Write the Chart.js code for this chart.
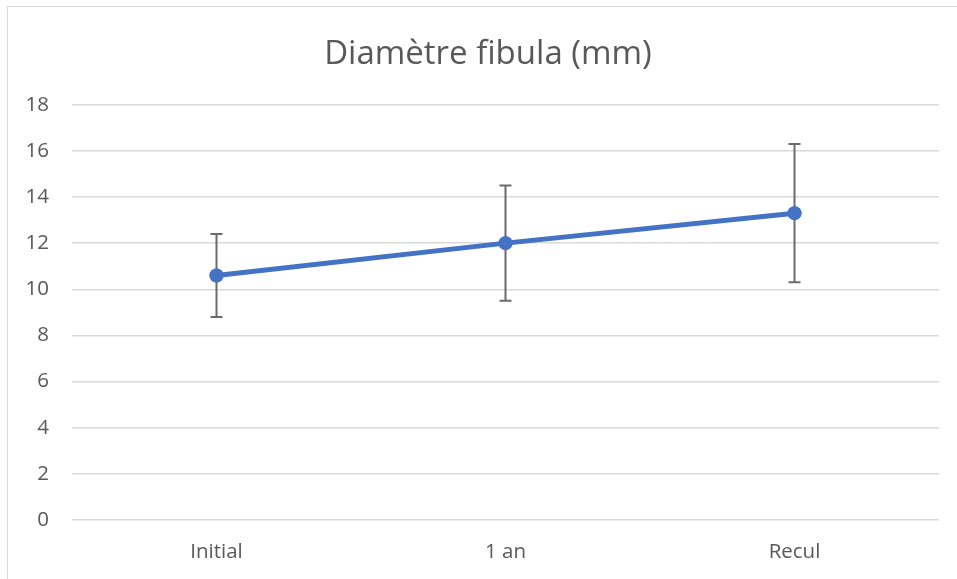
<!DOCTYPE html>
<html>
<head>
<meta charset="utf-8">
<script src="https://cdn.jsdelivr.net/npm/chart.js@4.4.0/dist/chart.umd.min.js"></script>
<style>
	html, body { margin: 0; padding: 0; background: #fff; overflow: hidden; }
	#frame { position: absolute; left: 7px; top: 6px; width: 980px; height: 600px;
		border-left: 1px solid #d9d9d9; border-top: 1px solid #d9d9d9; }
	#chart { position: absolute; left: 0; top: 0; }
	#title { position: absolute; left: 0; top: 29px; width: 976px; text-align: center;
		font-family: 'Open Sans'; font-size: 33px; line-height: 45px; color: #595959; }
</style>
</head>
<body>
<div id="frame"></div>
<canvas id="chart" width="957" height="579"></canvas>
<div id="title">Diamètre fibula (mm)</div>
<script>
const labels = ['Initial', '1 an', 'Recul'];
const values = [10.6, 12.0, 13.3];
const errLow = [8.8, 9.5, 10.3];
const errHigh = [12.4, 14.5, 16.3];
const yTicks = [0, 2, 4, 6, 8, 10, 12, 14, 16, 18];

// error bars drawn from the scales
const errorBars = {
	id: 'errorBars',
	afterDatasetsDraw(chart) {
		const ctx = chart.ctx;
		const xs = chart.scales.x;
		const ys = chart.scales.y;
		ctx.save();
		ctx.strokeStyle = '#6b6b6b';
		ctx.lineWidth = 2;
		labels.forEach((l, i) => {
			let x = xs.getPixelForValue(i);
			let top = ys.getPixelForValue(errHigh[i]);
			let bottom = ys.getPixelForValue(errLow[i]);
			ctx.beginPath();
			ctx.moveTo(x, top);
			ctx.lineTo(x, bottom);
			ctx.moveTo(x - 6, top);
			ctx.lineTo(x + 6, top);
			ctx.moveTo(x - 6, bottom);
			ctx.lineTo(x + 6, bottom);
			ctx.stroke();
		});
		ctx.restore();
		// redraw points above the bars
		chart.getDatasetMeta(0).data.forEach(p => p.draw(ctx));
	}
};

let config = {
	type: 'line',
	data: {
		labels: labels,
		datasets: [{
			label: 'Diamètre',
			data: values,
			borderColor: '#4472c4',
			backgroundColor: '#4472c4',
			borderWidth: 5,
			pointRadius: 7,
			pointHoverRadius: 7,
			pointBorderWidth: 0,
			tension: 0
		}]
	},
	options: {
		responsive: false,
		animation: false,
		layout: { padding: { left: 0, right: 18, top: 104.7, bottom: 0 } },
		plugins: {
			legend: { display: false },
			tooltip: { enabled: false },
			title: { display: false }
		},
		scales: {
			x: {
				offset: true,
				grid: { display: false },
				border: { display: false },
				ticks: { color: '#595959', padding: 12, font: { family: 'Open Sans', size: 20.5 } },
				afterFit: (scale) => { scale.height = 59; }
			},
			y: {
				min: 0,
				max: 18,
				afterBuildTicks: (scale) => { scale.ticks = yTicks.map(v => ({ value: v })); },
				grid: { color: '#d9d9d9', lineWidth: 1.5, drawTicks: false },
				border: { display: false },
				ticks: { color: '#595959', padding: 23, font: { family: 'Open Sans', size: 20.5 } },
				afterFit: (scale) => { scale.width = 72; }
			}
		}
	},
	plugins: [errorBars]
};

let chart = new Chart(document.getElementById('chart').getContext('2d'), config);
</script>
</body>
</html>
